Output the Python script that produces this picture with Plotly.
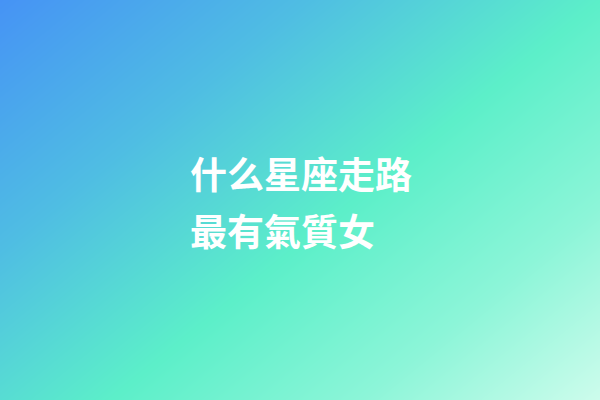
import plotly.graph_objects as go

# gradient corner stops (bottom row first), interpolated by the heatmap
grad_x = [0, 1]
grad_y = [0, 1]
grad_z = [[0.45, 1.0],
          [0.0, 0.55]]
grad_colors = [[0.0, "#4693f5"], [0.28, "#4fbde3"], [0.55, "#5cefc9"],
               [0.78, "#8cf5d8"], [1.0, "#cdfcec"]]

title_lines = ["什么星座走路", "最有氣質女"]
line_y = [0.568, 0.425]

fig = go.Figure()
fig.add_trace(go.Heatmap(
    x=grad_x, y=grad_y, z=grad_z,
    colorscale=grad_colors, zmin=0, zmax=1,
    zsmooth="best", showscale=False, hoverinfo="skip"
))

for txt, yy in zip(title_lines, line_y):
    fig.add_annotation(
        text=txt, x=0.313, y=yy, xref="paper", yref="paper",
        xanchor="left", yanchor="middle", showarrow=False,
        font=dict(family="Noto Sans CJK SC", size=37, color="white", weight="bold")
    )

fig.update_xaxes(visible=False, range=[0, 1])
fig.update_yaxes(visible=False, range=[0, 1])
fig.update_layout(
    width=600, height=400,
    margin=dict(l=0, r=0, t=0, b=0),
    paper_bgcolor="#5cefc9", plot_bgcolor="#5cefc9",
    showlegend=False
)

# page body has an 8px default margin, drop it so the picture fills the window
fig.write_html("out.html", config={"displayModeBar": False},
               post_script="document.body.style.margin='0';")
